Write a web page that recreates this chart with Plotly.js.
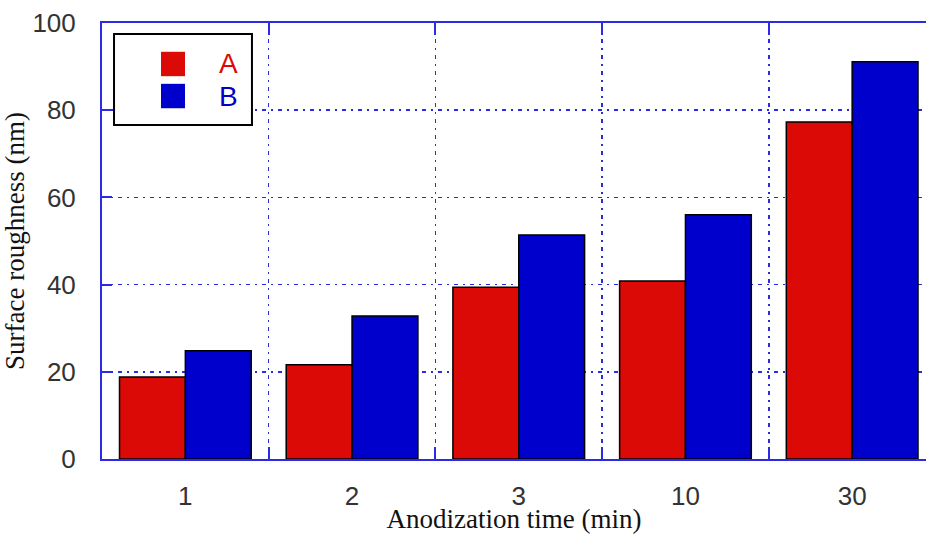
<!DOCTYPE html>
<html>
<head>
<meta charset="utf-8">
<script src="https://cdn.plot.ly/plotly-3.0.1.min.js"></script>
<style>html,body{margin:0;padding:0;background:#fff;}#chart{width:926px;height:534px;}</style>
</head>
<body>
<div id="chart"></div>
<script>
const categories = ["1", "2", "3", "10", "30"];
const seriesNames = ["A", "B"];
const valuesA = [18.8, 21.6, 39.4, 40.8, 77.3];
const valuesB = [24.8, 32.8, 51.4, 56.0, 91.1];
const yTicks = [0, 20, 40, 60, 80, 100];
const colors = ["#dc0a06", "#0000cc"];
const xTitle = "Anodization time (min)";
const yTitle = "Surface roughness (nm)";

const gridColor = "#2b2be6";
const traces = [valuesA, valuesB].map((vals, i) => ({
  type: "bar",
  x: categories,
  y: vals,
  name: seriesNames[i],
  showlegend: false,
  marker: { color: colors[i], line: { color: "#000", width: 1.5 } }
}));

// legend drawn in paper coordinates
const legShapes = [
  { type: "rect", xref: "paper", yref: "paper", x0: 0.0146, x1: 0.182, y0: 0.766, y1: 0.975,
    line: { color: "#000", width: 2 }, fillcolor: "#fff", layer: "above" }
];
const legAnn = [];
seriesNames.forEach((n, i) => {
  const yc = 0.906 - i * 0.0735;
  legShapes.push({ type: "rect", xref: "paper", yref: "paper", x0: 0.0716, x1: 0.1007,
    y0: yc - 0.028, y1: yc + 0.028, line: { width: 0 }, fillcolor: colors[i], layer: "above" });
  legAnn.push({ xref: "paper", yref: "paper", x: 0.154, y: yc, text: n, showarrow: false,
    xanchor: "center", yanchor: "middle", font: { family: "Liberation Sans, Arial, sans-serif", size: 28, color: colors[i] } });
});

const layout = {
  width: 926, height: 534,
  margin: { l: 102, r: 0, t: 23, b: 75 },
  paper_bgcolor: "#fff", plot_bgcolor: "#fff",
  barmode: "group", bargap: 0.21, bargroupgap: 0,
  showlegend: false,
  xaxis: {
    type: "category", range: [-0.5, 4.443], tickson: "boundaries",
    showline: true, linecolor: gridColor, linewidth: 2, mirror: "ticks",
    ticks: "inside", ticklen: 12, tickwidth: 2, tickcolor: gridColor,
    showgrid: true, gridcolor: gridColor, gridwidth: 1.5, griddash: "4px,5px,2px,5px",
    tickfont: { family: "Liberation Sans, Arial, sans-serif", size: 26, color: "#333" },
    ticklabelstandoff: 13,
    title: { text: xTitle, standoff: 0, font: { family: "Liberation Serif, Times New Roman, serif", size: 27, color: "#111" } },
    zeroline: false, fixedrange: true, automargin: false
  },
  yaxis: {
    range: [0, 100], tickvals: yTicks, ticktext: yTicks.map(String),
    showline: true, linecolor: gridColor, linewidth: 2, mirror: false,
    ticks: "inside", ticklen: 10, tickwidth: 2, tickcolor: gridColor,
    showgrid: true, gridcolor: gridColor, gridwidth: 1.5, griddash: "4px,5px,2px,5px",
    tickfont: { family: "Liberation Sans, Arial, sans-serif", size: 26, color: "#333" },
    ticklabelstandoff: 19,
    title: { text: yTitle, standoff: 0, font: { family: "Liberation Serif, Times New Roman, serif", size: 27, color: "#111" } },
    zeroline: false, fixedrange: true, automargin: false
  },
  shapes: legShapes,
  annotations: legAnn
};

Plotly.newPlot("chart", traces, layout, { displayModeBar: false, staticPlot: true });
</script>
</body>
</html>
